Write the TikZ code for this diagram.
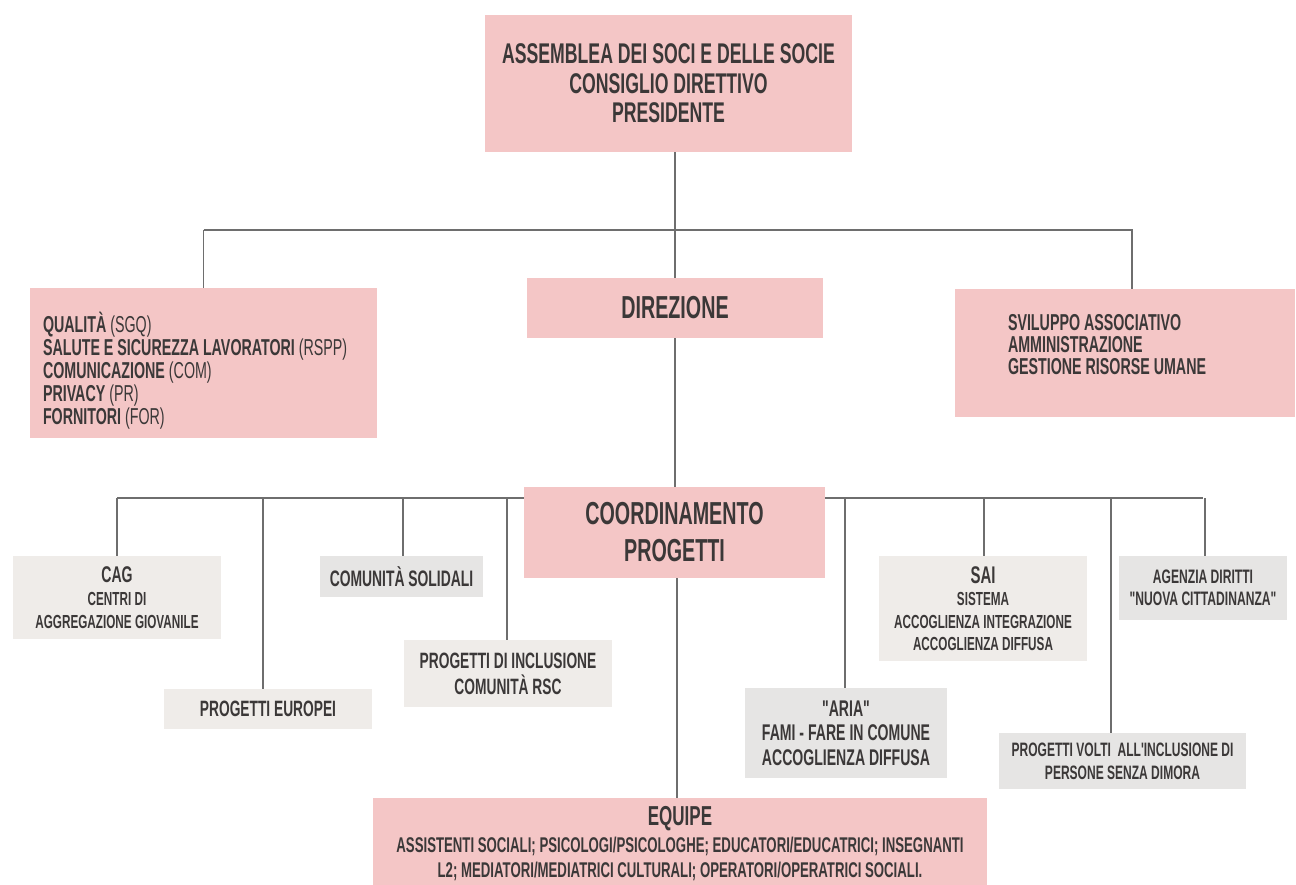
\documentclass[tikz,border=0pt]{standalone}
\usepackage{fontspec}
\setmainfont{Liberation Sans}[FakeStretch=0.62, Ligatures=TeXOff]
\usetikzlibrary{positioning, calc}
\definecolor{rosa}{HTML}{F4C6C6}
\definecolor{grigiocaldo}{HTML}{EFECE9}
\definecolor{grigiofreddo}{HTML}{E6E5E4}
\definecolor{testo}{HTML}{3B3838}
\definecolor{linea}{HTML}{6E6E6E}
\newcommand{\fsz}[2]{\fontsize{#1}{#2}\selectfont}

\begin{document}
\begin{tikzpicture}[x=1pt, y=-1pt,
    box/.style={inner sep=0pt, text=testo, font=\bfseries, align=center},
    rosabox/.style={box, fill=rosa},
    caldobox/.style={box, fill=grigiocaldo},
    freddobox/.style={box, fill=grigiofreddo},
    conn/.style={draw=linea, line width=1.8pt}]

  % === CORNICE ===
  \useasboundingbox[fill=white] (0,0) rectangle (1296,884);

  % === VERTICE ===
  \node[rosabox, minimum width=367, minimum height=137, font=\bfseries\fsz{28.5}{29.5}] (assemblea) at (668.5,83.5)
    {ASSEMBLEA DEI SOCI E DELLE SOCIE\\CONSIGLIO DIRETTIVO\\PRESIDENTE};

  \node[rosabox, minimum width=296, minimum height=60, font=\bfseries\fsz{31.8}{32}] (direzione) at (675,308) {DIREZIONE};

  % ufficio di staff (testo spostato in basso)
  \node[rosabox, minimum width=347, minimum height=150] (staff) at (203.5,363) {};
  \node[box, align=flush left, text width=321, font=\bfseries\fsz{23}{23}] (staff-testo) at ([yshift=-8]staff.center)
    {QUALITÀ {\mdseries(SGQ)}\\
     SALUTE E SICUREZZA LAVORATORI {\mdseries(RSPP)}\\
     COMUNICAZIONE {\mdseries(COM)}\\
     PRIVACY {\mdseries(PR)}\\
     FORNITORI {\mdseries(FOR)}};

  % amministrazione (testo spostato in alto)
  \node[rosabox, minimum width=340, minimum height=128] (sviluppo) at (1125,353) {};
  \node[box, align=flush left, text width=234, font=\bfseries\fsz{23}{22}] (sviluppo-testo) at ([yshift=8]sviluppo.center)
    {SVILUPPO ASSOCIATIVO\\AMMINISTRAZIONE\\GESTIONE RISORSE UMANE};

  \node[rosabox, minimum width=301, minimum height=91, font=\bfseries\fsz{31.8}{37}] (coord) at (674.5,532.5)
    {COORDINAMENTO\\PROGETTI};

  % === PROGETTI ===
  \node[caldobox, minimum width=208, minimum height=83, font=\bfseries\fsz{18.9}{23}] (cag) at (117,597.5)
    {{\fsz{22.7}{23}CAG}\\CENTRI DI\\AGGREGAZIONE GIOVANILE};
  \node[freddobox, minimum width=163, minimum height=41, font=\bfseries\fsz{22.4}{22}] (solidali) at (401.5,576.5) {COMUNITÀ SOLIDALI};
  \node[caldobox, minimum width=208, minimum height=40, font=\bfseries\fsz{22.2}{22}] (europei) at (268,709) {PROGETTI EUROPEI};
  \node[caldobox, minimum width=208, minimum height=67, font=\bfseries\fsz{22.2}{26}] (rsc) at (508,673.5)
    {PROGETTI DI INCLUSIONE\\COMUNITÀ RSC};
  \node[freddobox, minimum width=202, minimum height=90, font=\bfseries\fsz{22.7}{24.5}] (aria) at (846,733)
    {"ARIA"\\FAMI - FARE IN COMUNE\\ACCOGLIENZA DIFFUSA};
  \node[caldobox, minimum width=208, minimum height=105, font=\bfseries\fsz{18.9}{22.5}] (sai) at (983,608.5)
    {{\fsz{24.1}{22.5}SAI}\\SISTEMA\\ACCOGLIENZA INTEGRAZIONE\\ACCOGLIENZA DIFFUSA};
  \node[freddobox, minimum width=168, minimum height=64, font=\bfseries\fsz{19.5}{21.5}] (agenzia) at (1203,588)
    {AGENZIA DIRITTI\\"NUOVA CITTADINANZA"};
  \node[freddobox, minimum width=247, minimum height=56, font=\bfseries\fsz{19.4}{23}] (volti) at (1122.5,761)
    {PROGETTI VOLTI\ \ ALL'INCLUSIONE DI\\PERSONE SENZA DIMORA};

  % === EQUIPE ===
  \node[rosabox, minimum width=614, minimum height=90, anchor=north, font=\bfseries\fsz{21.3}{24.5}] (equipe) at (680,798)
    {{\fsz{27.4}{30}EQUIPE}\\[3pt]
     ASSISTENTI SOCIALI; PSICOLOGI/PSICOLOGHE; EDUCATORI/EDUCATRICI; INSEGNANTI\\
     L2; MEDIATORI/MEDIATRICI CULTURALI; OPERATORI/OPERATRICI SOCIALI.};

  % === COLLEGAMENTI ===
  \coordinate (busalto) at (675,230);
  \coordinate (busbasso) at (675,498);
  \draw[conn] (assemblea.south -| direzione.north) -- (direzione.north);
  \draw[conn] (staff.north |- busalto) -- (staff.north);
  \draw[conn] (staff.north |- busalto) -- ([xshift=7]sviluppo.north |- busalto) -- ([xshift=7]sviluppo.north);
  \draw[conn] (direzione.south) -- (direzione.south |- coord.north);
  \draw[conn] (coord.south -| equipe.north) ++(-3,0) -- ([xshift=-3]equipe.north);

  % bus dei progetti
  \draw[conn] (cag.north |- busbasso) -- (coord.west |- busbasso);
  \draw[conn] (coord.east |- busbasso) -- (agenzia.north |- busbasso);
  \foreach \n/\dx in {cag/0, europei/-5, solidali/1.5, rsc/-1, aria/-1, sai/1, volti/-11.5, agenzia/2}
    \draw[conn] ([xshift=\dx]\n.north |- busbasso) -- ([xshift=\dx]\n.north);

\end{tikzpicture}
\end{document}
